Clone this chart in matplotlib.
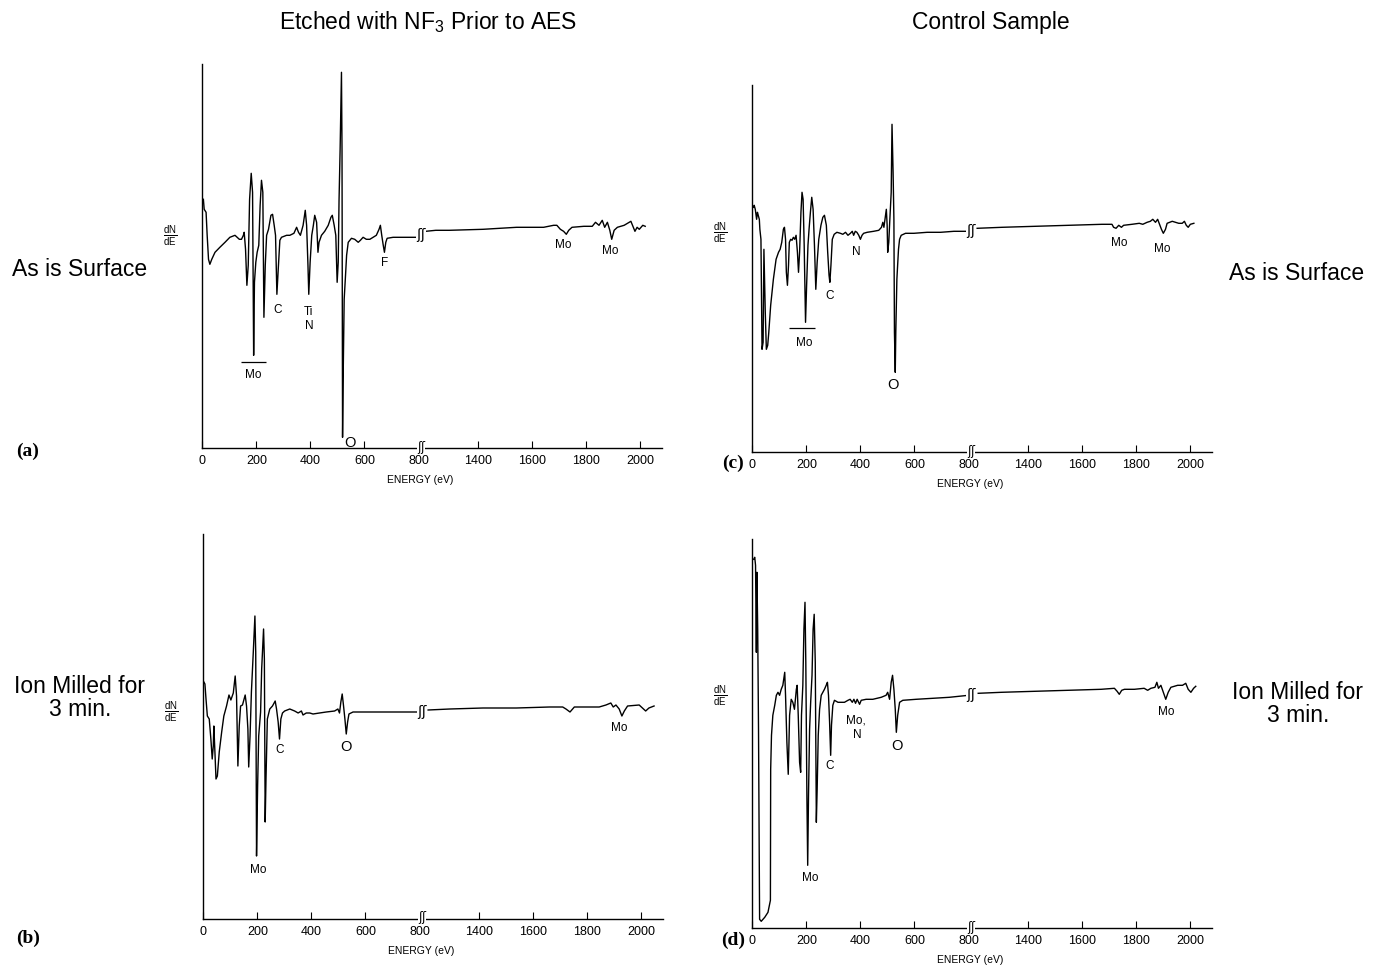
import numpy as np
import matplotlib
matplotlib.use('Agg')
import matplotlib.pyplot as plt

plt.rcParams['font.family'] = ['Liberation Sans', 'DejaVu Sans']
plt.rcParams['mathtext.fontset'] = 'custom'
plt.rcParams['mathtext.rm'] = 'Liberation Sans'

TICKS = [0, 200, 400, 600, 800, 1400, 1600, 1800, 2000]

# (a) etched, as is surface -- energy (eV) and dN/dE (arb. units)
E_A = [4, 7, 14, 18, 23, 28, 35, 47, 65, 84, 102, 121, 129, 137, 145, 152, 155, 160, 165, 170,
       175, 181, 186, 190, 193, 198, 203, 209, 214, 219, 224, 228, 233, 238, 245, 254, 260, 266, 271, 276,
       281, 287, 293, 312, 324, 339, 349, 356, 363, 373, 381, 386, 391, 394, 399, 405, 411, 416, 423, 428,
       432, 441, 453, 466, 476, 481, 488, 494, 499, 503, 506, 510, 515, 517, 519, 521, 525, 530, 534, 540,
       552, 564, 577, 585, 595, 607, 620, 632, 644, 654, 659, 664, 669, 674, 679, 684, 706, 743, 780, 800,
       1207, 1244, 1294, 1419, 1543, 1643, 1680, 1692, 1705, 1717, 1727, 1736, 1748, 1792, 1823, 1835,
       1848, 1860, 1869, 1879, 1888, 1895, 1904, 1916, 1941, 1966, 1975, 1981, 1989, 1997, 2010, 2019]
DN_A = [249, 239, 236, 213, 189, 184, 189, 196, 201, 206, 211, 213, 211, 209, 209, 213, 216, 199, 163, 183,
        249, 275, 256, 93, 166, 186, 196, 203, 243, 268, 256, 131, 183, 213, 219, 233, 234, 223, 213, 154,
        179, 208, 211, 213, 213, 215, 221, 216, 213, 223, 238, 223, 183, 154, 186, 213, 223, 233, 226, 196,
        206, 213, 217, 223, 231, 233, 223, 213, 166, 186, 248, 299, 376, 299, 11, 66, 149, 173, 193, 206,
        210, 209, 206, 208, 211, 209, 209, 211, 213, 219, 223, 213, 204, 196, 206, 210, 211, 211, 211, 211,
        217, 218, 218, 219, 221, 221, 223, 223, 219, 217, 214, 218, 221, 222, 222, 226,
        223, 228, 221, 226, 218, 209, 218, 221, 223, 227, 221, 217, 221, 219, 223, 222]

# (b) etched, ion milled 3 min
E_B = [2, 6, 10, 15, 22, 28, 33, 37, 39, 43, 47, 52, 59, 68, 76, 86, 95, 102, 111, 118,
       123, 128, 133, 138, 145, 150, 155, 160, 165, 168, 173, 178, 185, 191, 194, 197, 201, 205, 212, 216,
       223, 226, 229, 232, 237, 246, 256, 266, 271, 277, 282, 287, 293, 301, 320, 338, 351, 363, 369, 381,
       394, 406, 430, 455, 486, 498, 504, 509, 514, 519, 524, 529, 534, 539, 554, 603, 664, 738, 800,
       1212, 1292, 1415, 1538, 1661, 1710, 1722, 1737, 1753, 1784, 1845, 1870, 1888, 1897, 1907, 1919,
       1929, 1938, 1950, 1993, 2005, 2017, 2029, 2048]
DN_B = [237, 235, 220, 203, 200, 180, 160, 173, 193, 167, 140, 143, 167, 187, 203, 213, 224, 219, 226, 243,
        223, 153, 193, 213, 214, 219, 224, 213, 190, 152, 183, 227, 267, 303, 267, 63, 133, 183, 207, 250,
        290, 260, 97, 140, 200, 210, 213, 218, 210, 197, 180, 200, 206, 208, 210, 208, 206, 208, 204, 206,
        206, 205, 206, 207, 208, 210, 206, 217, 225, 213, 200, 185, 197, 205, 207, 207, 207, 207, 207,
        209, 210, 211, 211, 212, 212, 210, 207, 212, 212, 212, 214, 216, 212, 214, 210,
        203, 208, 213, 214, 211, 208, 211, 213]

# (c) control, as is surface
E_C = [4, 7, 11, 16, 19, 22, 26, 28, 32, 36, 40, 43, 48, 52, 57, 61, 68, 78, 88, 97,
       103, 109, 115, 119, 123, 126, 130, 134, 137, 142, 147, 152, 157, 162, 167, 171, 175, 180, 184, 188,
       192, 197, 201, 206, 210, 215, 220, 225, 230, 235, 240, 246, 254, 261, 267, 274, 279, 284, 287, 291,
       296, 303, 313, 326, 335, 345, 354, 363, 370, 375, 381, 387, 394, 400, 406, 412, 425, 449, 468, 478,
       483, 487, 491, 496, 499, 501, 505, 509, 514, 517, 521, 524, 526, 529, 531, 535, 539, 541, 545, 551,
       567, 598, 647, 697, 746, 800,
       1212, 1304, 1427, 1551, 1674, 1711, 1717, 1726, 1736, 1746, 1754, 1785, 1812, 1825, 1841, 1853,
       1862, 1872, 1880, 1887, 1894, 1901, 1909, 1915, 1934, 1958, 1971, 1979, 1986, 1993, 2001, 2014]
DN_C = [245, 247, 243, 233, 240, 237, 233, 223, 213, 103, 110, 203, 140, 103, 107, 120, 147, 173, 193, 200,
        203, 210, 223, 225, 213, 180, 167, 187, 210, 213, 212, 215, 213, 217, 200, 180, 200, 240, 260, 253,
        207, 130, 167, 207, 223, 240, 255, 243, 207, 163, 190, 213, 227, 235, 237, 227, 200, 177, 170, 187,
        213, 218, 220, 219, 218, 220, 217, 219, 221, 217, 221, 220, 217, 213, 217, 219, 220, 221, 222, 225,
        230, 225, 233, 243, 227, 200, 210, 233, 260, 328, 280, 233, 120, 80, 120, 173, 193, 203, 213, 217,
        219, 219, 220, 220, 221, 221,
        224, 225, 226, 227, 228, 228, 225, 224, 227, 225, 227, 228, 229, 228, 230, 231,
        233, 230, 233, 228, 223, 219, 223, 229, 231, 229, 229, 231, 227, 225, 228, 229]

# (d) control, ion milled 3 min
E_D = [5, 9, 12, 15, 17, 20, 23, 27, 33, 46, 58, 67, 68, 71, 76, 83, 89, 95, 101, 107,
       113, 120, 123, 128, 133, 138, 144, 150, 156, 163, 166, 170, 175, 179, 182, 187, 191, 195, 198, 202,
       205, 208, 212, 216, 221, 225, 229, 233, 237, 240, 244, 249, 255, 261, 267, 275, 278, 282, 286, 290,
       293, 298, 304, 317, 329, 341, 354, 362, 370, 376, 382, 388, 397, 403, 421, 446, 477, 495, 501, 508,
       514, 519, 524, 529, 533, 538, 545, 557, 606, 668, 729, 800,
       1216, 1302, 1425, 1548, 1671, 1720, 1730, 1738, 1747, 1757, 1794, 1830, 1843, 1855, 1870,
       1877, 1883, 1892, 1901, 1910, 1919, 1929, 1954, 1972, 1984, 1993, 2003, 2013, 2021]
DN_D = [369, 371, 363, 276, 356, 299, 199, 9, 7, 11, 16, 28, 159, 193, 213, 223, 233, 236, 233, 239,
        243, 256, 233, 186, 154, 213, 229, 226, 219, 239, 243, 213, 166, 156, 213, 243, 299, 326, 266, 133,
        63, 133, 199, 226, 253, 299, 314, 266, 106, 139, 193, 219, 233, 236, 239, 244, 246, 233, 206, 173,
        203, 223, 228, 226, 226, 226, 228, 229, 226, 229, 225, 229, 224, 228, 229, 229, 231, 233, 236, 229,
        246, 253, 239, 219, 196, 213, 226, 228, 229, 230, 231, 233,
        235, 236, 237, 238, 239, 240, 237, 234, 238, 239, 239, 240, 238, 240, 241,
        246, 240, 243, 236, 229, 236, 241, 243, 243, 245, 239, 236, 240, 242]

# peak assignments: (label, energy, dN/dE)
PEAKS_A = [('Mo', 189, 74), ('C', 278, 139), ('Ti', 392, 137), ('N', 396, 123), ('O', 546, 6),
           ('F', 673, 186), ('Mo', 1717, 204), ('Mo', 1891, 198)]
PEAKS_B = [('Mo', 203, 50), ('C', 283, 170), ('O', 527, 173), ('Mo', 1919, 192)]
PEAKS_C = [('Mo', 192, 110), ('C', 285, 157), ('N', 385, 201), ('O', 521, 68), ('Mo', 1738, 210),
           ('Mo', 1896, 204)]
PEAKS_D = [('Mo', 214, 51), ('C', 286, 163), ('Mo,', 384, 209), ('N', 390, 194), ('O', 535, 183),
           ('Mo', 1910, 217)]
MO_BAR_A = (142, 235, 86)
MO_BAR_C = (134, 233, 124)


def fwd(e):
    e = np.asarray(e, float)
    return np.where(e <= 800, e, np.where(e >= 1200, e - 380, 800 + (e - 800) * 0.05))


def inv(x):
    x = np.asarray(x, float)
    return np.where(x <= 800, x, np.where(x >= 820, x + 380, 800 + (x - 800) / 0.05))


W, H = 1383, 970
fig = plt.figure(figsize=(W / 100, H / 100), dpi=100)


def px_rect(x0, y_axis, width, height):
    return [x0 / W, (H - y_axis) / H, width / W, height / H]


def panel(rect, e, dn, ytop, peaks, bar=None):
    ax = fig.add_axes(rect)
    e = np.asarray(e)
    dn = np.asarray(dn)
    lo = e <= 800
    hi = e >= 1200
    ax.plot(e[lo], dn[lo], color='black', lw=1.0)
    ax.plot(e[hi], dn[hi], color='black', lw=1.0)
    ax.set_xscale('function', functions=(fwd, inv))
    ax.set_xlim(0, 2080)
    ax.set_ylim(0, ytop)
    ax.set_xticks(TICKS)
    ax.set_xticklabels([str(t) for t in TICKS])
    ax.set_yticks([])
    ax.tick_params(axis='x', direction='in', length=5, width=0.8, pad=4, labelsize=9)
    for s in ('top', 'right'):
        ax.spines[s].set_visible(False)
    for s in ('left', 'bottom'):
        ax.spines[s].set_linewidth(1.0)

    # break marks on the axis and on the trace
    brk = dict(ha='center', va='center', family='DejaVu Sans',
               bbox=dict(fc='white', ec='none', pad=0.1), clip_on=False,
               textcoords='offset points')
    ax.annotate('\u0283\u0283', xy=(1005, 0), xytext=(0, 1.5), fontsize=8.5, **brk)
    ax.annotate('\u0283\u0283', xy=(1005, (dn[lo][-1] + dn[hi][0]) / 2), xytext=(0, 0),
                fontsize=10, **brk)

    for lab, pe, ph in peaks:
        fs = 10.5 if lab == 'O' else 8.5
        ax.text(pe, ph, lab, ha='center', va='center', fontsize=fs)
    if bar is not None:
        ax.hlines(bar[2], bar[0], bar[1], color='black', lw=0.9)

    ax.annotate(r'$\frac{\mathrm{dN}}{\mathrm{dE}}$', xy=(0, np.median(dn)),
                xycoords=('axes fraction', 'data'), xytext=(-23, 0),
                textcoords='offset points', ha='center', va='center', fontsize=10)
    ax.annotate('ENERGY (eV)', xy=(0.475, 0), xycoords='axes fraction',
                xytext=(0, -22), textcoords='offset points',
                ha='center', va='center', fontsize=7.5)
    return ax


panel(px_rect(202.3, 449.3, 459.4, 384), E_A, DN_A, 384, PEAKS_A, MO_BAR_A)
panel(px_rect(203.3, 920, 459.4, 385), E_B, DN_B, 385, PEAKS_B)
panel(px_rect(752.3, 453.3, 459.4, 367), E_C, DN_C, 367, PEAKS_C, MO_BAR_C)
panel(px_rect(752.3, 929.3, 459.4, 389), E_D, DN_D, 389, PEAKS_D)


def ftext(x, y, s, **kw):
    fig.text(x / W, 1 - y / H, s, ha='center', va='center', **kw)


ftext(428, 22, r'Etched with NF$_\mathregular{3}$ Prior to AES', fontsize=16.5)
ftext(991, 22, 'Control Sample', fontsize=16.5)
ftext(80, 270, 'As is Surface', fontsize=16.5)
ftext(1297, 273, 'As is Surface', fontsize=16.5)
ftext(80, 698, 'Ion Milled for\n3 min.', fontsize=16.5, linespacing=0.95)
ftext(1298, 704, 'Ion Milled for\n3 min.', fontsize=16.5, linespacing=0.95)

letter = dict(fontsize=14, family='Liberation Serif', fontweight='bold')
ftext(28, 451, '(a)', **letter)
ftext(28, 938, '(b)', **letter)
ftext(733, 463, '(c)', **letter)
ftext(733, 940, '(d)', **letter)

fig.savefig('out.png', dpi=100)
